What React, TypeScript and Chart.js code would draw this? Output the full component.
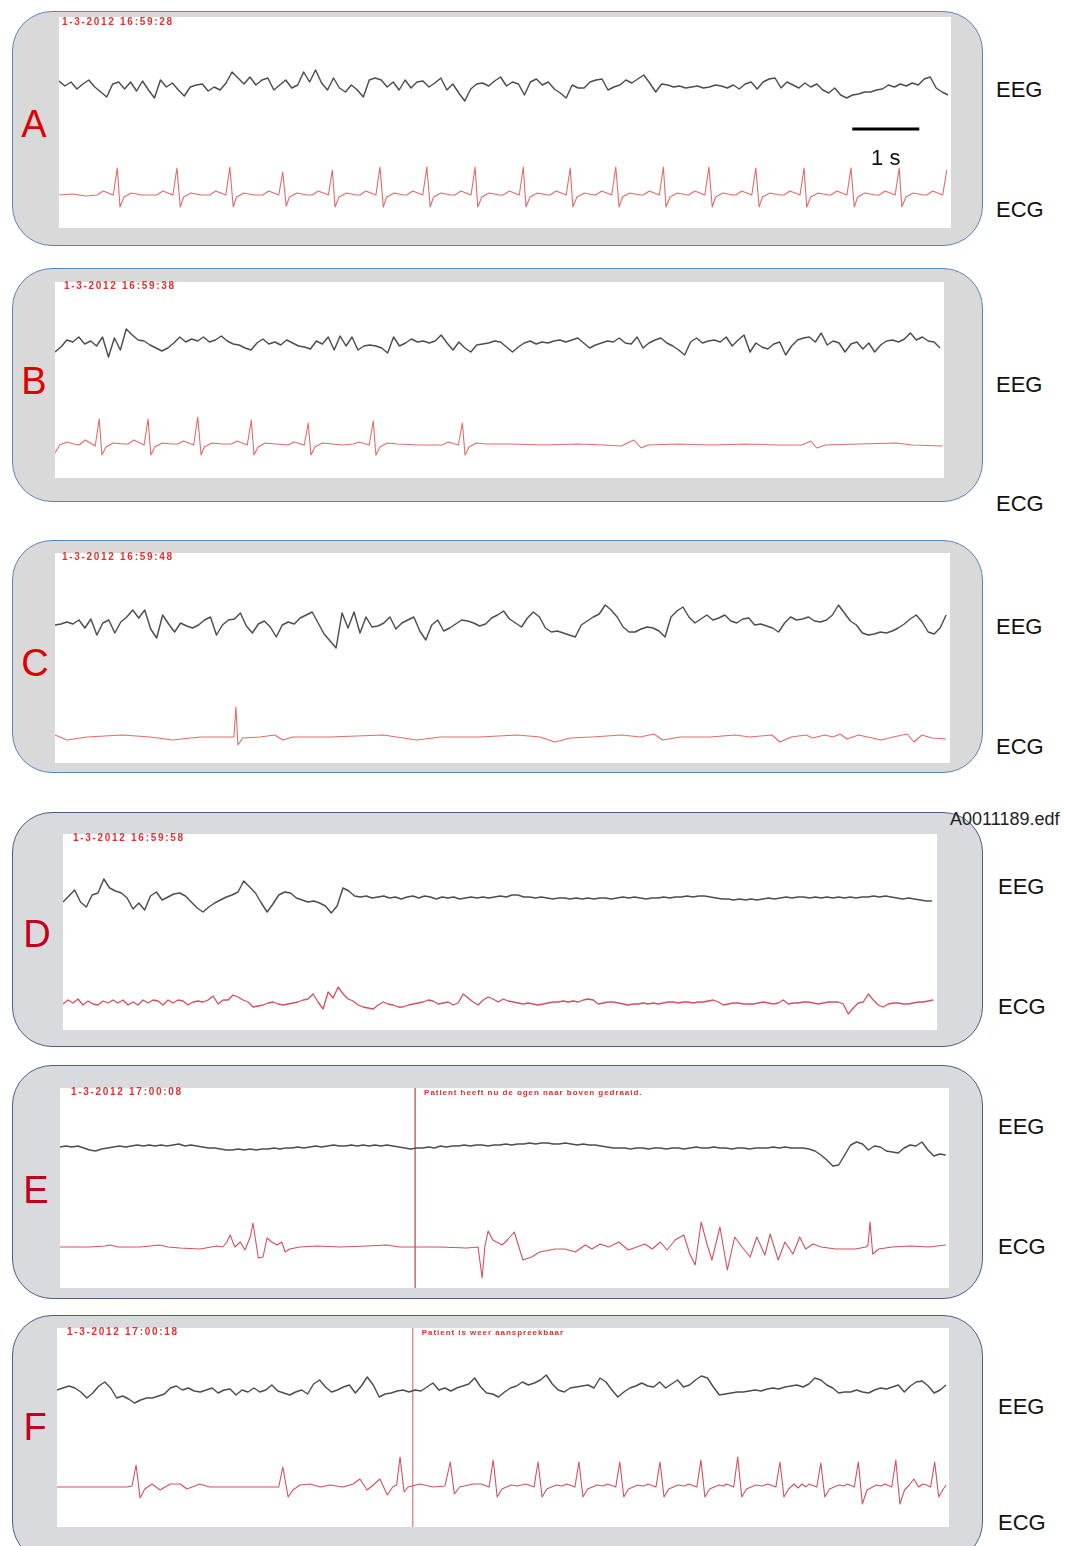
import React, { useEffect, useRef } from "react";
import { Chart, registerables } from "chart.js";

Chart.register(...registerables);

// ---------------- DATA (amplitudes in a.u., positive = up; time in seconds) ----------------
const PANEL_LETTERS = ["A", "B", "C", "D", "E", "F"];
const CHANNELS = ["EEG", "ECG"];
const TIMESTAMPS = [
  "1-3-2012 16:59:28",
  "1-3-2012 16:59:38",
  "1-3-2012 16:59:48",
  "1-3-2012 16:59:58",
  "1-3-2012 17:00:08",
  "1-3-2012 17:00:18",
];
const EVENT_TIMES: (number | null)[] = [null, null, null, null, 5.3, 5.31];
const EVENT_TEXTS = ["", "", "", "", "Patient heeft nu de ogen naar boven gedraaid.", "Patient is weer aanspreekbaar"];
const FILE_NAME = "A0011189.edf";
const SCALE_BAR = { start: 11.84, length: 1, level: 66, label: "1 s" };
const EEG_DURATIONS = [13.27, 13.21, 13.3, 12.97, 13.22, 13.27];
const ECG_D_DURATION = 12.99;

const EEG_A = [
  6, 1, 5, -2, 3, 7, 0, -5, -10, 3,
  5, -2, 5, -4, 6, -3, -11, 7, 0, 4,
  -3, -9, 0, 2, 3, -4, 0, -3, 4, 15,
  9, 3, 10, 2, 7, 9, -3, 2, 7, -1,
  2, 15, 5, 17, 4, -3, 9, -1, -5, 2,
  -3, -10, 7, 9, 7, 0, 5, -3, 7, -1,
  5, 6, 0, 4, 9, -3, 3, -6, -14, -2,
  3, 4, 1, 6, 10, 1, 5, 3, -8, 5,
  8, 2, 5, -2, -6, -11, 2, -1, -1, 5,
  7, 8, -3, 0, 2, 7, 4, 8, 12, 4,
  -5, 3, 2, 0, 1, -1, 0, 1, -1, 0,
  2, 1, -1, 2, -2, 3, 5, -2, 5, 8,
  9, -1, 5, 2, -1, 4, 0, 3, -3, -6,
  -1, -8, -11, -8, -7, -5, -5, -3, -2, 2,
  0, 3, 1, 4, 2, 8, 10, -1, -5, -8,
];
const EEG_B = [
  -7, -2, 5, 3, 8, 1, 4, -1, 8, -12,
  7, -5, 16, 10, 5, 4, 0, -3, -6, -3,
  2, 8, 3, 6, 4, 8, 3, 5, 9, 4,
  1, 0, -3, -5, 2, 6, 1, 3, 0, 5,
  2, -1, -2, -4, 4, 1, 8, -5, 9, -1,
  8, -5, -1, 0, -1, -3, -8, 8, -1, 2,
  6, 3, 4, 2, 4, 10, 2, -5, 3, -3,
  -7, 0, 1, 2, 4, 3, -2, -7, -2, 2,
  4, 1, 3, 2, 4, 5, 3, 5, 7, 2,
  -3, 0, 2, 4, 3, 7, 2, 1, 8, -3,
  2, 5, 7, 2, -1, -5, -10, 3, 7, 2,
  4, 5, 3, 8, -1, 5, 10, -7, 2, -2,
  -4, 1, 3, -10, -1, 5, 7, 8, 3, 12,
  0, 4, 2, -7, 1, 3, -4, 2, -7, 0,
  4, 5, 3, 6, 12, 5, 8, 4, 3, -3,
];
const EEG_C = [
  0, 1, 3, 1, 5, -3, 6, -10, 2, 5,
  -8, 3, 8, 15, 7, 15, -4, -13, 10, 1,
  -7, 2, -1, -3, 0, 5, 8, -10, 0, 5,
  6, 12, -1, -8, 1, 4, -2, -12, 0, 3,
  1, 7, 10, 13, 2, -9, -16, -23, 12, -3,
  13, -8, 8, -2, -1, 2, 8, -4, 2, 5,
  8, -6, -15, 0, 5, -6, -3, 1, 5, 4,
  2, -1, 1, 7, 10, 14, 6, 2, -2, 7,
  13, 8, -3, -7, -6, -8, -10, -12, 0, 4,
  8, 11, 20, 15, 8, -2, -7, -7, -4, -2,
  -3, -6, -12, 8, 14, 18, 8, 2, 6, 10,
  5, 7, 10, 4, 2, 6, 7, 0, 1, -1,
  -3, -7, 2, 8, 5, 6, 8, 4, 3, 5,
  10, 20, 12, 4, 0, -8, -10, -9, -7, -8,
  -6, -3, 1, 6, 10, 3, -7, -9, -3, 10,
];
const EEG_D = [
  -4, 2, 8, -4, -9, 3, 5, 19, 10, 7,
  5, 0, -11, -5, -12, 2, 6, -2, 1, 4,
  5, 2, -4, -10, -14, -9, -5, -2, 1, 3,
  6, 17, 11, 5, -5, -14, -6, 3, 6, 5,
  0, -2, -4, -3, -5, -8, -15, -8, 10, 7,
  2, 1, 2, 0, 1, 2, 0, 1, -1, 1,
  2, 0, 2, 1, -1, 1, 0, 1, -1, 0,
  1, 0, 1, 0, 1, 2, 1, 3, 3, 1,
  1, 0, 1, 0, -1, 0, 0, -1, 0, -1,
  0, -1, 0, 0, -1, 0, 1, 0, 1, 0,
  -1, 0, 0, 1, 0, 1, 1, 2, 1, 2,
  2, 1, 0, -1, -1, -2, -1, -2, -1, -2,
  -1, 0, -1, 0, 1, 0, 1, 1, 0, 1,
  0, 1, 0, 1, 0, 1, 0, 1, 1, 2,
  1, 2, 1, 0, -1, 0, -1, -2, -3, -3,
];
const EEG_E = [
  0, 1, 0, 1, -1, -3, -4, -2, -1, 0,
  1, 0, 1, 2, 1, 2, 1, 2, 1, 2,
  3, 1, 2, 1, 0, -1, -1, -2, -3, -3,
  -2, -3, -2, -3, -2, -2, -1, -2, -1, -1,
  0, -1, 0, 1, 0, 1, 2, 1, 1, 2,
  1, 2, 1, 2, 1, 2, 1, 0, -1, -2,
  -1, -1, 0, -1, 1, 0, 1, 1, 2, 1,
  2, 2, 1, 2, 2, 3, 2, 3, 3, 4,
  3, 4, 4, 3, 3, 4, 3, 2, 3, 2,
  2, 1, 0, -1, -1, -1, -2, -1, -1, -2,
  -1, -1, -2, -1, -1, -2, -1, 0, -1, -1,
  0, -1, -1, -2, -1, -1, -2, -1, -1, -1,
  0, -1, 0, -1, -1, -1, -2, -4, -8, -13,
  -19, -18, -8, 2, 5, 3, -3, 1, 0, -4,
  -5, -6, -1, 2, 1, 5, -3, -9, -7, -8,
];
const EEG_F = [
  0, 2, 4, 2, -2, -8, -3, 4, 8, 2,
  -8, -6, -9, -13, -10, -8, -8, -6, -4, 2,
  4, 0, 2, -1, -2, 0, 2, -3, 0, 1,
  -5, 0, -2, 2, -2, 0, 5, -1, -3, -5,
  -2, 0, -4, 6, 10, 3, -2, 0, 3, 5,
  -3, 4, 13, 5, -7, -4, -3, -1, 0, -2,
  0, -1, 3, 7, 0, 2, -1, 2, 4, 6,
  12, 3, -3, -4, -7, -2, 2, 4, 8, 5,
  7, 10, 15, 6, 0, -2, 2, 3, 4, 5,
  2, 12, 8, 0, -7, -2, 2, 4, 7, 4,
  3, 8, 2, 6, 10, 3, 5, 10, 14, 12,
  3, -5, -4, -3, -2, -2, -1, 0, -1, 1,
  2, 1, 3, 4, 5, 3, 6, 12, 10, 5,
  2, -3, -2, -2, 0, -2, -3, 0, 2, 1,
  3, 5, -2, 4, 8, 9, 4, -3, 0, 5,
];

// ECG as [time s, amplitude] pairs
const ECG_A: [number, number][] = [
  [0, 0], [0.2, 1], [0.4, -1],
  [0.57, 0], [0.66, 4], [0.81, 0], [0.87, 27], [0.91, -12], [0.97, -2], [1.08, 2], [1.23, 0],
  [1.46, 0], [1.55, 4], [1.7, 0], [1.76, 27], [1.81, -12], [1.86, -2], [1.97, 2], [2.12, 0],
  [2.25, 0], [2.34, 4], [2.49, 0], [2.55, 28], [2.6, -12], [2.65, -2], [2.76, 2], [2.91, 0],
  [3.04, 0], [3.13, 4], [3.28, 0], [3.34, 23], [3.39, -11], [3.44, -2], [3.55, 2], [3.7, 0],
  [3.78, 0], [3.87, 4], [4.02, 0], [4.08, 25], [4.12, -12], [4.18, -2], [4.29, 2], [4.44, 0],
  [4.49, 0], [4.58, 4], [4.73, 0], [4.79, 28], [4.84, -12], [4.89, -2], [5.0, 2], [5.15, 0],
  [5.19, 0], [5.28, 4], [5.43, 0], [5.49, 28], [5.54, -12], [5.59, -2], [5.7, 2], [5.85, 0],
  [5.91, 0], [6.0, 4], [6.15, 0], [6.21, 28], [6.25, -12], [6.31, -2], [6.42, 2], [6.57, 0],
  [6.63, 0], [6.72, 4], [6.87, 0], [6.93, 28], [6.97, -12], [7.03, -2], [7.14, 2], [7.29, 0],
  [7.33, 0], [7.42, 4], [7.57, 0], [7.63, 27], [7.67, -12], [7.73, -2], [7.84, 2], [7.99, 0],
  [8.01, 0], [8.1, 4], [8.25, 0], [8.31, 28], [8.36, -12], [8.41, -2], [8.52, 2], [8.67, 0],
  [8.72, 0], [8.81, 4], [8.96, 0], [9.02, 28], [9.06, -12], [9.12, -2], [9.23, 2], [9.38, 0],
  [9.4, 0], [9.49, 4], [9.64, 0], [9.7, 28], [9.75, -12], [9.8, -2], [9.91, 2], [10.06, 0],
  [10.1, 0], [10.19, 4], [10.34, 0], [10.4, 27], [10.45, -12], [10.5, -2], [10.61, 2], [10.76, 0],
  [10.82, 0], [10.91, 4], [11.06, 0], [11.12, 27], [11.16, -12], [11.22, -2], [11.33, 2], [11.48, 0],
  [11.52, 0], [11.61, 4], [11.76, 0], [11.82, 27], [11.87, -12], [11.92, -2], [12.03, 2], [12.18, 0],
  [12.24, 0], [12.33, 4], [12.48, 0], [12.54, 27], [12.58, -12], [12.64, -2], [12.75, 2], [12.9, 0],
  [12.95, 0], [13.04, 4], [13.19, 0], [13.25, 25],
];
const ECG_B: [number, number][] = [
  [0, -8], [0.07, 0], [0.18, 3], [0.28, 1],
  [0.36, 0], [0.45, 5], [0.6, -1], [0.66, 26], [0.7, -10], [0.76, -2], [0.87, 2], [1.02, 1],
  [1.09, 1], [1.18, 5], [1.33, 0], [1.39, 26], [1.43, -10], [1.49, -2], [1.6, 2], [1.75, 1],
  [1.83, 1], [1.92, 4], [2.07, 0], [2.13, 28], [2.18, -10], [2.23, -2], [2.34, 2], [2.49, 1],
  [2.63, 1], [2.72, 4], [2.87, 0], [2.93, 25], [2.97, -10], [3.03, -2], [3.14, 2], [3.29, 1],
  [3.48, 0], [3.57, 3], [3.72, 0], [3.78, 22], [3.82, -10], [3.88, -2], [3.99, 2], [4.14, 1],
  [4.3, 0],
  [4.45, 1], [4.54, 3], [4.69, 0], [4.75, 24], [4.79, -10], [4.85, -2], [4.96, 2], [5.11, 1],
  [5.45, 0],
  [5.78, 0], [5.87, 3], [6.02, 0], [6.08, 22], [6.12, -10], [6.18, -2], [6.29, 2], [6.44, 1],
  [6.8, 1], [7.3, 0], [7.8, 1], [8.2, 0], [8.45, -1], [8.64, 5], [8.75, -3], [8.85, 0],
  [9.3, 1], [9.8, 0], [10.3, 1], [10.8, 0], [11.15, 0], [11.28, 4], [11.37, -3], [11.5, 0],
  [12.0, 1], [12.55, 2], [12.8, 0], [13.25, -1],
];
const ECG_C: [number, number][] = [
  [0, 2], [0.18, -3], [0.48, 0], [1.01, 2], [1.42, 0], [1.76, -3], [2.16, 0], [2.6, 0],
  [2.67, 0], [2.7, 30], [2.73, -8], [2.8, -1], [3.06, 0], [3.28, 2], [3.4, -3], [3.55, 0],
  [4.1, 0], [4.9, 2], [5.4, -3], [5.75, 0], [6.34, 0], [6.9, 2], [7.24, 0], [7.46, -5],
  [7.69, -1], [8.01, 0], [8.46, 2], [8.73, 0], [8.94, 3], [9.07, -3], [9.33, 0], [9.78, 0],
  [10.15, 2], [10.37, 0], [10.7, 2], [10.82, -5], [10.99, 0], [11.21, 2], [11.31, -1],
  [11.49, 2], [11.61, 0], [11.72, 3], [11.82, -2], [11.99, 2], [12.13, 0], [12.33, -3],
  [12.51, 0], [12.72, 3], [12.82, -5], [12.94, 2], [13.09, -1], [13.3, -2],
];
const ECG_D = [
  -2, 2, -1, 3, -3, 1, -2, -3, 1, -1,
  2, -1, 2, -3, 0, -3, 2, -1, 2, 1,
  -3, 2, -1, 2, 1, -3, 0, 1, 0, 2,
  6, -2, 2, 2, 7, 5, 2, 0, -5, -4,
  -3, -1, 0, -2, -3, -2, -1, 0, 2, 3,
  8, 0, -7, 10, 4, 15, 8, 3, 1, -3,
  -5, -6, -7, -3, 0, -2, -3, -5, -5, -3,
  -2, -1, 0, 2, 1, -2, -1, 0, -3, -1,
  8, 4, 0, -3, 2, 5, 3, 0, 3, 1,
  0, -1, -2, -1, -2, -3, -2, -1, 0, 0,
  1, 0, 1, 0, 2, 3, 2, -2, -1, 0,
  0, -1, -2, -3, -2, -2, -1, -2, -1, -2,
  -1, 0, 0, -1, 0, 0, -1, 0, 0, 1,
  2, 0, -3, -2, -1, -1, -2, -2, -2, -1,
  0, -1, -2, -1, 2, -2, -1, -1, 0, 0,
  -1, -2, -1, 0, 0, 0, -2, -12, -6, -1,
  0, 8, 2, -3, -5, -2, -1, -1, -2, -2,
  -1, 0, 0, 1, 2,
];
const ECG_E: [number, number][] = [
  [0, 0], [0.45, 0], [0.67, 1], [0.75, 2], [0.87, 0], [1.19, 0], [1.49, 2], [1.61, 0],
  [1.79, -1], [2.09, -2], [2.34, 1], [2.43, 0], [2.49, 5], [2.54, 12], [2.61, 0], [2.69, 5],
  [2.76, -3], [2.84, 10], [2.88, 24], [2.96, -11], [3.03, -10], [3.09, 9], [3.16, 5], [3.24, 2],
  [3.31, 5], [3.36, -5], [3.43, -2], [3.58, 0], [3.84, 1], [4.18, 0], [4.58, 1], [4.88, 2],
  [5.07, 0], [5.67, 0], [6.07, -1], [6.24, 0], [6.3, -31], [6.34, 0], [6.39, 16], [6.46, 7],
  [6.6, 2], [6.69, 8], [6.78, 15], [6.91, -13], [7.04, -10], [7.16, -5], [7.39, -2], [7.54, -2],
  [7.69, -5], [7.84, 2], [7.94, -2], [8.06, 3], [8.19, 0], [8.34, 5], [8.48, -3], [8.61, 0],
  [8.73, 3], [8.84, -2], [8.96, 5], [9.06, -3], [9.18, 7], [9.31, 12], [9.4, -7], [9.48, -18],
  [9.57, 25], [9.66, 2], [9.73, -13], [9.85, 20], [9.96, -23], [10.07, 10], [10.18, 0],
  [10.3, -10], [10.4, 10], [10.52, -8], [10.6, 13], [10.72, -13], [10.82, 5], [10.94, -7],
  [11.04, 10], [11.13, -2], [11.24, 3], [11.36, 0], [11.58, -2], [11.87, -2], [12.03, 0],
  [12.06, 2], [12.09, 25], [12.13, -7], [12.22, -2], [12.42, 0], [12.7, 1], [12.97, 0], [13.22, 2],
];
const ECG_F: [number, number][] = [
  [0, 0], [0.64, 0], [1.04, 0], [1.12, 1], [1.18, 22], [1.24, -11], [1.31, -2], [1.42, 3],
  [1.54, -3], [1.69, 3], [1.84, 3], [1.94, -2], [2.13, 3], [2.28, 0], [2.81, 0], [3.31, 0],
  [3.37, 20], [3.45, -10], [3.52, -3], [3.63, 2], [3.78, 3], [3.93, 0], [4.07, 2], [4.27, 0],
  [4.42, 3], [4.52, 8], [4.63, -3], [4.72, 2], [4.82, 8], [4.93, -8], [5.01, 0], [5.07, 2],
  [5.12, 30], [5.18, -5], [5.24, 0], [5.42, 3], [5.61, 0], [5.79, 1], [5.87, 25], [5.93, -7],
  [6.01, 0], [6.21, 3],
  [6.33, 3], [6.45, 0], [6.51, 27], [6.57, -10], [6.64, -2], [6.78, 2], [6.87, 1],
  [7.0, 3], [7.12, 0], [7.18, 25], [7.24, -10], [7.31, -2], [7.45, 2], [7.54, 1],
  [7.61, 3], [7.73, 0], [7.79, 25], [7.85, -10], [7.92, -2], [8.06, 2], [8.15, 1],
  [8.22, 3], [8.34, 0], [8.4, 25], [8.46, -10], [8.53, -2], [8.67, 2], [8.76, 1],
  [8.82, 3], [8.94, 0], [9.0, 25], [9.06, -10], [9.13, -2], [9.27, 2], [9.36, 1],
  [9.43, 3], [9.55, 0], [9.61, 27], [9.67, -10], [9.74, -2], [9.88, 2], [9.95, 1],
  [9.99, 3], [10.1, 0], [10.16, 30], [10.22, -10], [10.29, -2], [10.43, 2], [10.52, 1],
  [10.61, 3], [10.73, 0], [10.79, 25], [10.85, -10], [10.92, -2], [11.0, 3], [11.06, -1], [11.12, 3], [11.18, 0],
  [11.22, 3], [11.34, 0], [11.4, 24], [11.46, -10], [11.53, -2], [11.67, 2], [11.74, 1],
  [11.8, 3], [11.9, 0], [11.96, 25], [12.02, -17], [12.09, -3], [12.23, 2], [12.3, 1],
  [12.36, 3], [12.46, 0], [12.52, 27], [12.58, -17], [12.65, -3], [12.72, 2], [12.79, 8], [12.86, 0], [12.92, 3],
  [12.98, 2], [13.04, 0], [13.1, 25], [13.16, -10], [13.22, -3], [13.27, 2],
];

// ---------------- LAYOUT (page pixels) ----------------
const PX_PER_S = 67;
type Box = { l: number; t: number; r: number; b: number };
type Layout = {
  frameTop: number; frameBottom: number; white: Box;
  eegBase: number; ecgBase: number; letterX: number; letterY: number;
  labelX: number; eegLabelY: number; ecgLabelY: number;
  stampX: number; stampY: number; eventTextY: number;
  dark: boolean;
};
const LAYOUTS: Layout[] = [
  { frameTop: 11, frameBottom: 246, white: { l: 59, t: 17, r: 951, b: 228 }, eegBase: 87, ecgBase: 195, letterX: 34, letterY: 124, labelX: 996, eegLabelY: 90, ecgLabelY: 210, stampX: 62, stampY: 22, eventTextY: 0, dark: false },
  { frameTop: 268, frameBottom: 502, white: { l: 55, t: 282, r: 944, b: 478 }, eegBase: 345, ecgBase: 445, letterX: 34, letterY: 381, labelX: 996, eegLabelY: 385, ecgLabelY: 504, stampX: 64, stampY: 286, eventTextY: 0, dark: false },
  { frameTop: 540, frameBottom: 773, white: { l: 55, t: 553, r: 950, b: 763 }, eegBase: 625, ecgBase: 737, letterX: 35, letterY: 663, labelX: 996, eegLabelY: 627, ecgLabelY: 747, stampX: 62, stampY: 557, eventTextY: 0, dark: false },
  { frameTop: 812, frameBottom: 1047, white: { l: 63, t: 834, r: 937, b: 1030 }, eegBase: 898, ecgBase: 1002, letterX: 37, letterY: 934, labelX: 998, eegLabelY: 887, ecgLabelY: 1007, stampX: 73, stampY: 838, eventTextY: 0, dark: true },
  { frameTop: 1065, frameBottom: 1299, white: { l: 60, t: 1088, r: 949, b: 1288 }, eegBase: 1147, ecgBase: 1247, letterX: 36, letterY: 1190, labelX: 998, eegLabelY: 1127, ecgLabelY: 1247, stampX: 71, stampY: 1092, eventTextY: 1093, dark: true },
  { frameTop: 1315, frameBottom: 1562, white: { l: 57, t: 1328, r: 949, b: 1527 }, eegBase: 1390, ecgBase: 1487, letterX: 35, letterY: 1427, labelX: 998, eegLabelY: 1407, ecgLabelY: 1523, stampX: 67, stampY: 1332, eventTextY: 1333, dark: true },
];

const EEG_SERIES = [EEG_A, EEG_B, EEG_C, EEG_D, EEG_E, EEG_F];
const uniform = (vals: number[], dur: number) => vals.map((v, i) => ({ x: (i * dur) / (vals.length - 1), y: v }));
const pairs = (p: [number, number][]) => p.map(([x, y]) => ({ x, y }));
const ECG_SERIES = [pairs(ECG_A), pairs(ECG_B), pairs(ECG_C), uniform(ECG_D, ECG_D_DURATION), pairs(ECG_E), pairs(ECG_F)];

const FONT = '"Liberation Sans", Arial, Helvetica, sans-serif';

function PanelChart({ idx }: { idx: number }) {
  const ref = useRef<HTMLCanvasElement>(null);
  const L = LAYOUTS[idx];
  const W = L.white.r - L.white.l;
  const H = L.white.b - L.white.t;
  useEffect(() => {
    const eegMax = L.eegBase - L.white.t;
    const ecgMax = L.ecgBase - L.white.t;
    const datasets: any[] = [
      {
        label: "EEG",
        data: uniform(EEG_SERIES[idx], EEG_DURATIONS[idx]),
        borderColor: "#4d4d4d",
        borderWidth: 1.45,
        yAxisID: "yEEG",
      },
      {
        label: "ECG",
        data: ECG_SERIES[idx],
        borderColor: L.dark ? "#d4505e" : "#e66a6a",
        borderWidth: idx === 3 ? 1.3 : 1.1,
        yAxisID: "yECG",
      },
    ];
    const ev = EVENT_TIMES[idx];
    if (ev != null) {
      datasets.push({
        label: "event",
        data: [{ x: ev, y: ecgMax - H }, { x: ev, y: ecgMax }],
        borderColor: idx === 4 ? "#b04848" : "#cf7a7a",
        borderWidth: 1.2,
        yAxisID: "yECG",
      });
    }
    if (idx === 0) {
      datasets.push({
        label: "scale",
        data: [
          { x: SCALE_BAR.start, y: SCALE_BAR.level },
          { x: SCALE_BAR.start + SCALE_BAR.length, y: SCALE_BAR.level },
        ],
        borderColor: "#000",
        borderWidth: 3,
        borderCapStyle: "butt",
        yAxisID: "yECG",
      });
    }
    const chart = new Chart(ref.current as HTMLCanvasElement, {
      type: "line",
      data: { datasets },
      options: {
        animation: false,
        responsive: false,
        events: [],
        layout: { padding: 0 },
        elements: { point: { radius: 0 }, line: { tension: 0, borderJoinStyle: "round" } },
        plugins: { legend: { display: false }, tooltip: { enabled: false } },
        scales: {
          x: { type: "linear", display: false, min: 0, max: W / PX_PER_S },
          yEEG: { type: "linear", display: false, min: eegMax - H, max: eegMax },
          yECG: { type: "linear", display: false, min: ecgMax - H, max: ecgMax },
        },
      } as any,
    });
    return () => chart.destroy();
  }, []);
  return (
    <canvas
      ref={ref}
      width={W}
      height={H}
      style={{ position: "absolute", left: L.white.l, top: L.white.t, width: W, height: H, display: "block" }}
    />
  );
}

function Panel({ idx }: { idx: number }) {
  const L = LAYOUTS[idx];
  const ev = EVENT_TIMES[idx];
  const letterColor = L.dark ? "#c4001c" : "#e00000";
  return (
    <>
      <div
        style={{
          position: "absolute",
          left: 12,
          top: L.frameTop,
          width: 971,
          height: L.frameBottom - L.frameTop,
          boxSizing: "border-box",
          border: `1.6px solid ${L.dark ? "#4d5f80" : "#5b84bf"}`,
          borderRadius: 40,
          background: L.dark ? "#d8dadd" : "#d9d9d9",
        }}
      />
      <div
        style={{
          position: "absolute",
          left: L.white.l,
          top: L.white.t,
          width: L.white.r - L.white.l,
          height: L.white.b - L.white.t,
          background: "#ffffff",
        }}
      />
      <PanelChart idx={idx} />
      <div
        style={{
          position: "absolute",
          left: L.stampX,
          top: L.stampY,
          transform: "translateY(-50%)",
          font: `bold 10px ${FONT}`,
          letterSpacing: "1.7px",
          color: "#e53030",
          whiteSpace: "nowrap",
          lineHeight: 1,
        }}
      >
        {TIMESTAMPS[idx]}
      </div>
      {ev != null && (
        <div
          style={{
            position: "absolute",
            left: L.white.l + ev * PX_PER_S + 9,
            top: L.eventTextY,
            transform: "translateY(-50%)",
            font: `bold 8px ${FONT}`,
            letterSpacing: "0.95px",
            color: "#d83030",
            whiteSpace: "nowrap",
            lineHeight: 1,
          }}
        >
          {EVENT_TEXTS[idx]}
        </div>
      )}
      <div
        style={{
          position: "absolute",
          left: L.letterX,
          top: L.letterY,
          transform: "translate(-50%, -50%)",
          font: `38px ${FONT}`,
          color: letterColor,
          lineHeight: 1,
        }}
      >
        {PANEL_LETTERS[idx]}
      </div>
      {[L.eegLabelY, L.ecgLabelY].map((y, k) => (
        <div
          key={k}
          style={{
            position: "absolute",
            left: L.labelX,
            top: y,
            transform: "translateY(-50%)",
            font: `22px ${FONT}`,
            color: "#111",
            lineHeight: 1,
            whiteSpace: "nowrap",
          }}
        >
          {CHANNELS[k]}
        </div>
      ))}
    </>
  );
}

export default function App() {
  const A = LAYOUTS[0];
  const barCenterX = A.white.l + (SCALE_BAR.start + SCALE_BAR.length / 2) * PX_PER_S;
  return (
    <div
      style={{
        position: "fixed",
        left: 0,
        top: 0,
        width: 1065,
        height: 1546,
        overflow: "hidden",
        background: "#ffffff",
        fontFamily: FONT,
      }}
    >
      {LAYOUTS.map((_, i) => (
        <Panel key={i} idx={i} />
      ))}
      <div
        style={{
          position: "absolute",
          left: barCenterX,
          top: 158,
          transform: "translate(-50%, -50%)",
          font: `22px ${FONT}`,
          color: "#111",
          lineHeight: 1,
          whiteSpace: "nowrap",
        }}
      >
        {SCALE_BAR.label}
      </div>
      <div
        style={{
          position: "absolute",
          left: 950,
          top: 819,
          transform: "translateY(-50%)",
          font: `18px ${FONT}`,
          color: "#222",
          lineHeight: 1,
          whiteSpace: "nowrap",
        }}
      >
        {FILE_NAME}
      </div>
    </div>
  );
}
